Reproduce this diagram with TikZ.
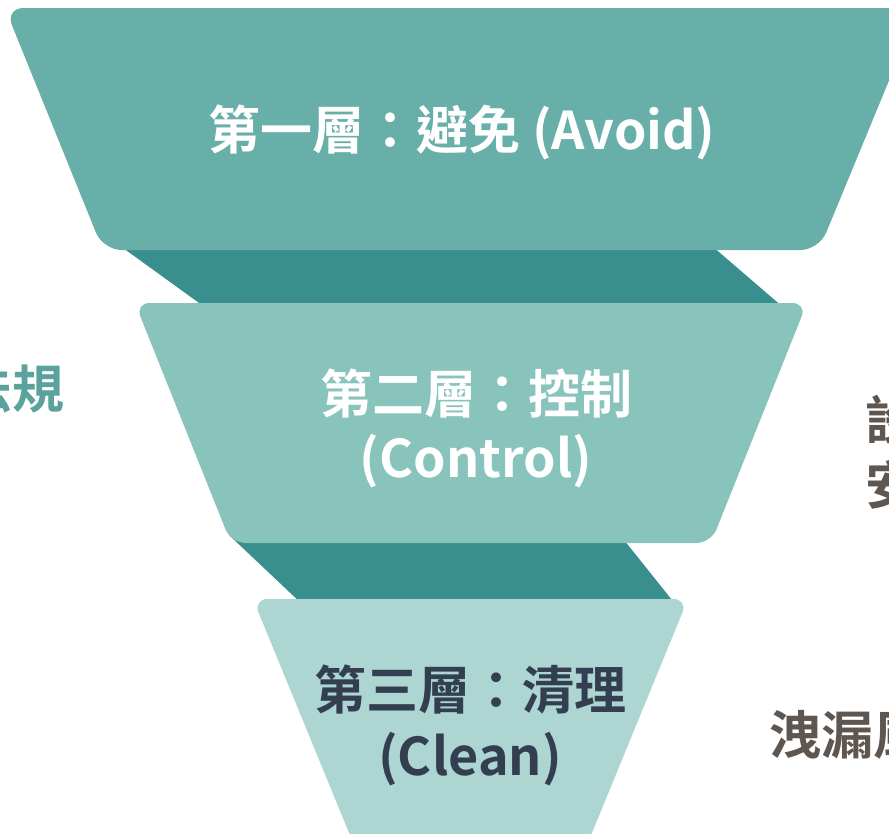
\documentclass[tikz,border=0pt]{standalone}
\usepackage{fontspec}
\newfontfamily\cjk[BoldFont={Noto Sans CJK TC Bold}]{Noto Sans CJK TC}
\definecolor{layerA}{HTML}{68AFA9}
\definecolor{layerB}{HTML}{88C3BC}
\definecolor{layerC}{HTML}{ADD6D3}
\definecolor{band}{HTML}{398F8E}
\definecolor{darktxt}{HTML}{333F50}
\definecolor{tealtxt}{HTML}{5AA29B}
\definecolor{browntxt}{HTML}{5E5650}
\tikzset{
  layer/.style={rounded corners=11pt},
  lbl/.style={font=\cjk\bfseries\fontsize{39pt}{47pt}\selectfont, inner sep=0pt, anchor=base},
  side/.style={font=\cjk\bfseries\fontsize{39pt}{47pt}\selectfont, inner sep=0pt},
}
\begin{document}
\begin{tikzpicture}[x=0.75pt,y=-0.75pt]
\useasboundingbox (0,0) rectangle (889,833);
\clip (0,0) rectangle (889,833);
% connecting bands
\fill[band] (112,240) -- (705,240) -- (784,308) -- (206,308) -- cycle;
\fill[band] (229,535) -- (620,535) -- (676,605) -- (303,605) -- cycle;
% layers
\fill[layerA, rounded corners=14pt] (5,8) -- (919,8) -- (819,250) -- (103,250) -- cycle;
\fill[layerB, layer] (135,303) -- (807,303) -- (711,543) -- (231,543) -- cycle;
\fill[layerC, layer] (253,599) -- (688,599) -- (580,862) -- (361,862) -- cycle;
% layer labels
\node[lbl, text=white] (t1) at (462,149) {第一層：避免 (Avoid)};
\node[lbl, text=white] (t2a) at (476,413) {第二層：控制};
\node[lbl, text=white] (t2b) at (476,477) {(Control)};
\node[lbl, text=darktxt] (t3a) at (470,709) {第三層：清理};
\node[lbl, text=darktxt] (t3b) at (470,775) {(Clean)};
% side texts
\node[side, text=tealtxt, anchor=base east] (s1) at (65,408) {法規};
\node[side, text=browntxt, anchor=base west] (s2) at (865,439) {設};
\node[side, text=browntxt, anchor=base west] (s3) at (865,504) {安};
\node[side, text=browntxt, anchor=base west] (s4) at (769,754) {洩漏風};
\end{tikzpicture}
\end{document}
